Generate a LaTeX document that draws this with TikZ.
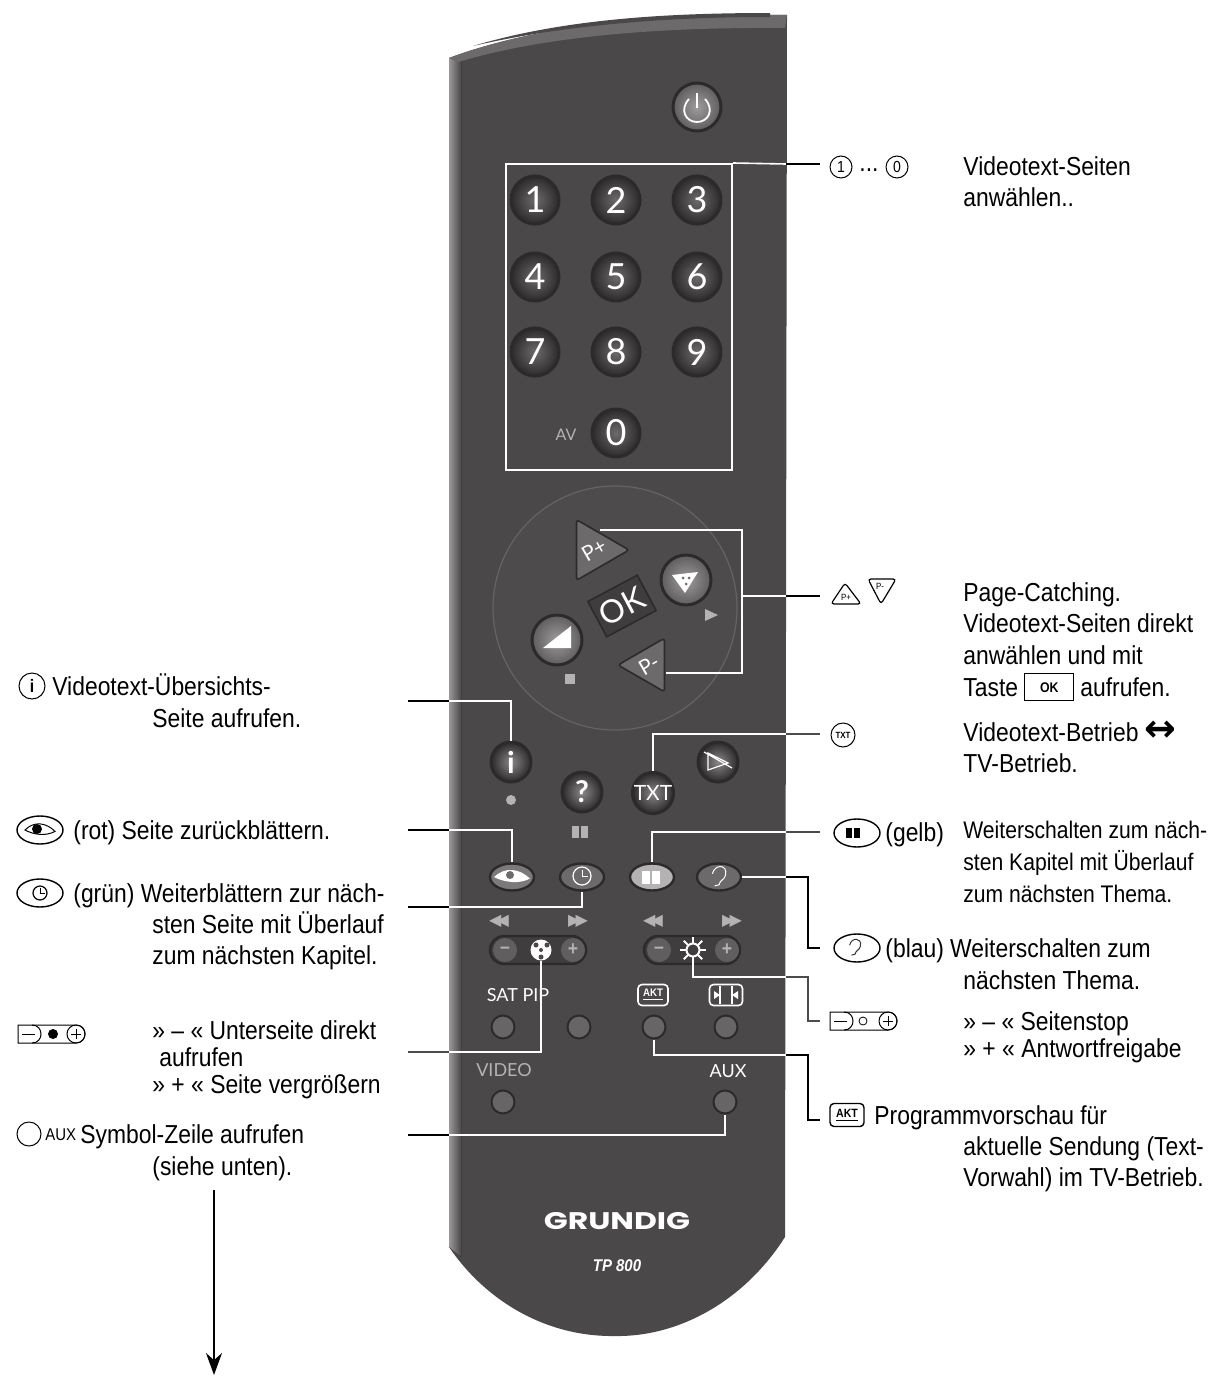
\documentclass[tikz,border=0pt]{standalone}
\usepackage{fontspec}
\setmainfont[FakeStretch=0.88]{Liberation Sans}
\newfontfamily\keyfont{Lato}
\newfontfamily\symfont{DejaVu Sans}
\newfontfamily\brandfont[FakeStretch=1.31]{Poppins}
\usetikzlibrary{shapes.geometric,arrows.meta}

\definecolor{bodygrey}{HTML}{4B4849}
\definecolor{rimgrey}{HTML}{2C2A2B}
\definecolor{keygrey}{HTML}{6C6A6A}
\definecolor{markgrey}{HTML}{B4B2B2}

\tikzset{
    note/.style={anchor=north west, inner sep=0pt, align=left, font=\fontsize{13}{15.8}\selectfont, execute at begin node=\strut},
    notetight/.style={note, font=\fontsize{13}{13.5}\selectfont},
    notesmall/.style={note, font=\fontsize{12}{16}\selectfont},
    numbtn/.style={circle, draw=rimgrey, line width=1.5pt, minimum size=24pt, inner sep=0pt, shading=radial, inner color=keygrey, outer color=rimgrey, text=white, font=\keyfont\fontsize{18}{18}\selectfont},
    litbtn/.style={numbtn, inner color=markgrey!70!keygrey, outer color=keygrey!60!bodygrey},
    funcbtn/.style={numbtn, minimum size=20pt, inner color=markgrey!40!keygrey, outer color=rimgrey, font=\keyfont\bfseries\fontsize{15}{15}\selectfont},
    ovalbtn/.style={ellipse, draw=rimgrey, line width=1.2pt, minimum width=22pt, minimum height=13.5pt, inner sep=0pt, fill=keygrey},
    smallbtn/.style={circle, draw=rimgrey, line width=1pt, minimum size=11.5pt, inner sep=0pt, fill=keygrey!85!bodygrey},
    pagebtn/.style={regular polygon, regular polygon sides=3, minimum size=31pt, inner sep=0pt, rounded corners=1.5pt, draw=rimgrey, line width=.8pt, fill=keygrey, rotate=30, text=white, font=\keyfont\fontsize{10.5}{10.5}\selectfont},
    rocker/.style={rounded corners=7pt, draw=rimgrey, line width=1.2pt, fill=bodygrey!85!black, minimum width=48pt, minimum height=14pt, inner sep=0pt},
    rockend/.style={circle, minimum size=12pt, inner sep=0pt, fill=keygrey!65!bodygrey, text=markgrey, font=\bfseries\fontsize{10}{10}\selectfont},
    keylabel/.style={inner sep=0pt, text=white, font=\keyfont\fontsize{9}{9}\selectfont},
    symcirc/.style={circle, draw, line width=.5pt, minimum size=11pt, inner sep=0pt, font=\fontsize{8}{8}\selectfont},
    symoval/.style={ellipse, draw, line width=.7pt, minimum width=23pt, minimum height=14pt, inner sep=0pt},
    leadwhite/.style={draw=white, line width=.8pt},
    leadblack/.style={draw=black, line width=1pt},
    leadthin/.style={draw=black!70, line width=.6pt}
}

\newcommand{\eyemark}[5]{% x y half width half height look
    \path[#5] (#1-#3,#2) .. controls (#1-#3*.4,#2-#4*1.3) and (#1+#3*.4,#2-#4*1.1) .. (#1+#3,#2+#4*.2)
        .. controls (#1+#3*.4,#2+#4*.9) and (#1-#3*.4,#2+#4*.7) .. cycle;
}
\newcommand{\clockmark}[4]{% x y radius colour
    \draw[#4, line width=.6pt] (#1,#2) circle[radius=#3];
    \draw[#4, line width=.5pt] (#1,#2-#3*.65) -- (#1,#2) -- (#1+#3*.65,#2);
}
\newcommand{\earmark}[4]{% x y size colour
    \draw[#4, line width=.5pt] (#1-#3*.6,#2-#3*.2) .. controls (#1-#3*.4,#2-#3*1.1) and (#1+#3*.8,#2-#3*1.1) .. (#1+#3*.6,#2-#3*.1)
        .. controls (#1+#3*.5,#2+#3*.4) and (#1+#3*.1,#2+#3*.3) .. (#1,#2+#3*.8) -- (#1-#3*.4,#2+#3*.9);
}
\newcommand{\barsmark}[4]{% x y height colour
    \fill[#4] (#1-#3*.7,#2-#3*.5) rectangle (#1-#3*.1,#2+#3*.5);
    \fill[#4] (#1+#3*.1,#2-#3*.5) rectangle (#1+#3*.7,#2+#3*.5);
}
\newcommand{\rockersym}[3]{% x y middle mark
    \draw[line width=.5pt] (#1,#2-9) -- (#1+58,#2-9) .. controls (#1+70,#2-9) and (#1+70,#2+9) .. (#1+58,#2+9) -- (#1,#2+9) -- cycle;
    \draw[line width=.5pt] (#1+14,#2-9) .. controls (#1+26,#2-9) and (#1+26,#2+9) .. (#1+14,#2+9);
    \draw[line width=.5pt] (#1+4,#2) -- (#1+17,#2);
    \draw[line width=.5pt] (#1+58,#2) circle[radius=9];
    \draw[line width=.5pt] (#1+53,#2) -- (#1+63,#2) (#1+58,#2-5) -- (#1+58,#2+5);
    #3
}

\begin{document}
\begin{tikzpicture}[x=0.5pt, y=-0.5pt]
    \useasboundingbox (0,0) rectangle (1212,1376);

    % remote body
    \fill[bodygrey] (449,58) .. controls (540,24) and (660,14) .. (787,15) -- (785,1237)
        .. controls (745,1300) and (680,1337) .. (615,1336) .. controls (545,1337) and (485,1300) .. (449,1247) -- cycle;
    \fill[left color=markgrey!75!bodygrey, right color=bodygrey] (449,58) -- (461,58) -- (461,1257) -- (449,1247) -- cycle;
    \fill[keygrey] (449,58) .. controls (540,24) and (660,14) .. (787,15) -- (785,28) .. controls (660,27) and (545,36) .. (458,62) -- cycle;
    \fill[bodygrey] (473,46) .. controls (560,20) and (660,13) .. (770,13) -- (770,17) .. controls (660,17) and (560,26) .. (473,46) -- cycle;

    % power and number keys
    \node[litbtn] (power) at (697,107) {};
    \draw[white, line width=.9pt] (689,99) .. controls (679,110) and (686,122) .. (697,122) .. controls (708,122) and (715,110) .. (705,99);
    \draw[white, line width=.9pt] (697,93) -- (697,108);
    \foreach \num/\px/\py in {1/535/200, 2/616/200, 3/697/200, 4/535/277, 5/616/277, 6/697/277, 7/535/352, 8/616/352, 9/697/352, 0/616/433}
        \node[numbtn] (num\num) at (\px,\py) {\num};
    \node[keylabel, text=markgrey, font=\keyfont\fontsize{8}{8}\selectfont] (avlabel) at (566,435) {AV};
    \node[draw=white, line width=1pt, minimum width=113pt, minimum height=153pt, inner sep=0pt] (numpad) at (619,317) {};

    % page keys
    \fill[bodygrey!92!keygrey] (615,608) circle[radius=122];
    \draw[keygrey!80!bodygrey, line width=.6pt] (615,608) circle[radius=122];
    \node[pagebtn, shape border rotate=-120] (pplus) at (594,550) {P+};
    \node[pagebtn, shape border rotate=60] (pminus) at (649,665) {P-};
    \node[rotate=28, draw=rimgrey, line width=.8pt, fill=bodygrey!85!black, minimum width=28pt, minimum height=20pt, inner sep=0pt, text=white, font=\keyfont\fontsize{16}{16}\selectfont] (okkey) at (622,606) {OK};
    \node[litbtn, minimum size=25pt] (prevkey) at (557,640) {};
    \node[litbtn, minimum size=25pt] (nextkey) at (686,580) {};
    \fill[white] (543,648) -- (571,626) -- (571,648) -- cycle;
    \fill[white] (672,575) -- (698,572) -- (685,593) -- cycle;
    \fill[keygrey] (683,578) circle[radius=1.5] (689,578) circle[radius=1.5] (686,584) circle[radius=1.5];
    \node[fill=markgrey, minimum size=5pt, inner sep=0pt] (stopmark) at (570,679) {};
    \fill[markgrey] (705,609) -- (718,615) -- (705,621) -- cycle;

    % function keys
    \node[funcbtn] (infokey) at (511,762) {i};
    \node[funcbtn] (helpkey) at (582,792) {?};
    \node[funcbtn, font=\keyfont\fontsize{10.5}{10.5}\selectfont] (txtkey) at (653,793) {TXT};
    \node[funcbtn] (cutkey) at (718,762) {};
    \draw[white, line width=.6pt] (708,753) -- (708,770) -- (728,763) -- cycle (704,752) -- (732,768);
    \fill[markgrey] (511,800) circle[radius=5];
    \barsmark{580}{832}{12}{markgrey}

    % coloured keys
    \node[ovalbtn, fill=keygrey!90!white] (redkey) at (512,877) {};
    \node[ovalbtn] (greenkey) at (582,877) {};
    \node[ovalbtn, fill=markgrey] (yellowkey) at (652,877) {};
    \node[ovalbtn] (bluekey) at (719,877) {};
    \eyemark{512}{877}{18}{8}{fill=white}
    \fill[keygrey] (510,875) circle[radius=4];
    \clockmark{582}{876}{9}{white}
    \barsmark{651}{877}{13}{white}
    \earmark{719}{876}{11}{white}

    % rockers
    \foreach \px/\wind in {499/◀\kern-2.5pt◀, 578/▶\kern-2.5pt▶, 653/◀\kern-2.5pt◀, 732/▶\kern-2.5pt▶}
        \node[keylabel, text=markgrey, font=\symfont\fontsize{8}{8}\selectfont] (wind\px) at (\px,921) {\wind};
    \node[rocker] (subrock) at (538,950) {};
    \node[rocker] (stoprock) at (692,950) {};
    \node[rockend] (subminus) at (505,950) {--};
    \node[rockend] (subplus) at (573,950) {+};
    \node[rockend] (stopminus) at (659,950) {--};
    \node[rockend] (stopplus) at (727,950) {+};
    \node[circle, fill=white, minimum size=10.5pt, inner sep=0pt] (subicon) at (541,950) {};
    \fill[bodygrey] (541,950) circle[radius=2] (536,945) circle[radius=2.5] (547,945) circle[radius=2.5] (541,957) circle[radius=2.5];
    \node[circle, draw=white, line width=1pt, minimum size=6.5pt, inner sep=0pt] (stopicon) at (693,950) {};
    \foreach \ray in {0,45,...,315}
        \draw[white, line width=.9pt] (693,950) ++(\ray:7) -- ++(\ray:6);

    % lower keys
    \node[keylabel] (satlabel) at (518,995) {SAT PIP};
    \node[draw=white, line width=.8pt, rounded corners=2pt, minimum width=15pt, minimum height=10.5pt, inner sep=0pt, text=white, font=\bfseries\fontsize{5.5}{5.5}\selectfont] (aktlabel) at (653,995) {\underline{AKT}};
    \node[draw=white, line width=.8pt, rounded corners=2pt, minimum width=16.5pt, minimum height=10.5pt, inner sep=0pt] (widelabel) at (726,995) {};
    \draw[white, line width=.6pt] (720,986) -- (720,1004) (732,986) -- (732,1004);
    \fill[white] (720,995) -- (714,991) -- (714,999) -- cycle (732,995) -- (738,991) -- (738,999) -- cycle;
    \node[smallbtn] (satkey) at (503,1027) {};
    \node[smallbtn] (pipkey) at (579,1027) {};
    \node[smallbtn] (aktkey) at (654,1027) {};
    \node[smallbtn] (widekey) at (726,1027) {};
    \node[keylabel, text=markgrey] (videolabel) at (504,1070) {VIDEO};
    \node[keylabel] (auxlabel) at (728,1071) {AUX};
    \node[smallbtn] (videokey) at (503,1102) {};
    \node[smallbtn] (auxkey) at (725,1102) {};

    % brand
    \node[inner sep=0pt, text=white, font=\brandfont\bfseries\fontsize{12}{12}\selectfont] (brand) at (617,1221) {GRUNDIG};
    \node[inner sep=0pt, text=white, font=\bfseries\itshape\fontsize{8.5}{8.5}\selectfont] (model) at (617,1266) {TP 800};

    % symbols on the right
    \node[symcirc] (symone) at (841,167) {1};
    \node[inner sep=0pt, font=\fontsize{13}{13}\selectfont] (symdots) at (869,170) {...};
    \node[symcirc] (symzero) at (897,167) {0};
    \draw[line width=.6pt, rounded corners=1.5pt] (845,583) -- (861,604) -- (831,604) -- cycle;
    \node[inner sep=0pt, font=\fontsize{4.5}{4.5}\selectfont] (sympplus) at (846,597) {P+};
    \draw[line width=.6pt, rounded corners=1.5pt] (868,579) -- (896,579) -- (881,604) -- cycle;
    \node[inner sep=0pt, font=\fontsize{4.5}{4.5}\selectfont] (sympminus) at (880,586) {P-};
    \node[symcirc, minimum size=12pt, font=\bfseries\fontsize{4.5}{4.5}\selectfont] (symtxt) at (843,735) {TXT};
    \node[symoval] (symyellow) at (857,833) {};
    \barsmark{853}{833}{10}{black}
    \node[symoval] (symblue) at (857,948) {};
    \earmark{855}{947}{9}{black!80}
    \rockersym{830}{1021}{\draw[line width=.4pt] (863,1021) circle[radius=4];}
    \node[minimum width=34pt, minimum height=9pt, inner sep=0pt] (symstop) at (864,1021) {};
    \node[draw, line width=.7pt, rounded corners=2pt, minimum width=17pt, minimum height=11.5pt, inner sep=0pt, font=\bfseries\fontsize{6}{6}\selectfont] (symakt) at (847,1115) {\underline{AKT}};

    % symbols on the left
    \node[symcirc, minimum size=13pt, font=\bfseries\fontsize{9}{9}\selectfont] (syminfo) at (32,686) {i};
    \node[symoval] (symred) at (40,830) {};
    \eyemark{40}{830}{15}{7}{draw=black, line width=.5pt, fill=white}
    \fill (37,829) circle[radius=5];
    \node[symoval] (symgreen) at (40,893) {};
    \clockmark{40}{893}{7}{black}
    \rockersym{18}{1034}{\fill (53,1034) circle[radius=5];}
    \node[minimum width=34pt, minimum height=9pt, inner sep=0pt] (symsub) at (52,1034) {};
    \node[circle, draw, line width=.5pt, minimum size=12pt, inner sep=0pt] (symaux) at (29,1134) {};
    \node[anchor=west, inner sep=0pt, font=\fontsize{8.5}{8.5}\selectfont] (symauxtext) at (45,1135) {AUX};

    % texts on the right
    \node[note] (numtext) at (963,156) {Videotext-Seiten\\anwählen..};
    \node[note] (pagetext) at (963,582) {Page-Catching.\\Videotext-Seiten direkt\\anwählen und mit\\Taste \smash{\raisebox{2pt}{\fboxsep=4pt\fbox{\makebox[16pt]{\bfseries\fontsize{7}{7}\selectfont OK}}}} aufrufen.};
    \node[note] (txttext) at (963,722) {Videotext-Betrieb \smash{\symfont\bfseries\fontsize{19}{15}\selectfont ↔}\\TV-Betrieb.};
    \node[note] (yellowtag) at (885,819) {(gelb)};
    \node[notesmall] (yellowtext) at (963,821) {Weiterschalten zum näch-\\sten Kapitel mit Überlauf\\zum nächsten Thema.};
    \node[note] (bluetext) at (885,935) {(blau) Weiterschalten zum};
    \node[note] (bluemore) at (963,967) {nächsten Thema.};
    \node[notetight] (stoptext) at (963,1011) {» -- « Seitenstop\\» + « Antwortfreigabe};
    \node[note] (akttext) at (874,1102) {Programmvorschau  für};
    \node[note] (aktmore) at (963,1136) {aktuelle Sendung (Text-\\Vorwahl) im TV-Betrieb.};

    % texts on the left
    \node[note] (infotext) at (52,673) {Videotext-Übersichts-};
    \node[note] (infomore) at (152,705) {Seite aufrufen.};
    \node[note] (redtext) at (73,817) {(rot) Seite zurückblättern.};
    \node[note] (greentext) at (73,880) {(grün) Weiterblättern zur näch-};
    \node[note] (greenmore) at (152,911) {sten Seite mit Überlauf\\zum nächsten Kapitel.};
    \node[notetight] (subtext) at (152,1020) {» -- « Unterseite direkt\\\hspace*{3.5pt}aufrufen\\» + « Seite vergrößern};
    \node[note] (auxtext) at (80,1121) {Symbol-Zeile aufrufen};
    \node[note] (auxmore) at (152,1153) {(siehe unten).};

    % points where the leaders leave the remote
    \coordinate (numedge) at (786,164);
    \coordinate (numend) at (820,164);
    \coordinate (pagejoin) at (742,596);
    \coordinate (pageedge) at (786,596);
    \coordinate (pageend) at (820,596);
    \coordinate (pplustip) at (600,530);
    \coordinate (pminustip) at (666,673);
    \coordinate (txtedge) at (786,734);
    \coordinate (txtend) at (820,734);
    \coordinate (yellowedge) at (786,832);
    \coordinate (yellowend) at (820,832);
    \coordinate (blueedge) at (786,877);
    \coordinate (blueturn) at (808,877);
    \coordinate (bluefoot) at (808,948);
    \coordinate (blueend) at (820,948);
    \coordinate (stopedge) at (786,977);
    \coordinate (stopturn) at (808,977);
    \coordinate (stopfoot) at (808,1021);
    \coordinate (stopend) at (820,1021);
    \coordinate (aktedge) at (786,1055);
    \coordinate (aktturn) at (808,1055);
    \coordinate (aktfoot) at (808,1120);
    \coordinate (aktend) at (820,1120);
    \coordinate (infoend) at (408,701);
    \coordinate (infoedge) at (449,701);
    \coordinate (redend) at (408,830);
    \coordinate (rededge) at (449,830);
    \coordinate (greenend) at (408,907);
    \coordinate (greenedge) at (449,907);
    \coordinate (subend) at (408,1052);
    \coordinate (subedge) at (449,1052);
    \coordinate (auxend) at (408,1135);
    \coordinate (auxedge) at (449,1135);
    \coordinate (arrowstart) at (214,1190);
    \coordinate (arrowend) at (214,1375);

    % leaders
    \draw[leadwhite] (numpad.north east) -- (numedge);
    \draw[leadblack] (numedge) -- (numend);

    \draw[leadwhite] (pplustip) -| (pminustip -| pagejoin) -- (pminustip);
    \draw[leadwhite] (pagejoin) -- (pageedge);
    \draw[leadblack] (pageedge) -- (pageend);

    \draw[leadwhite] (txtkey) |- (txtedge);
    \draw[leadthin] (txtedge) -- (txtend);

    \draw[leadwhite] (yellowkey) |- (yellowedge);
    \draw[leadthin] (yellowedge) -- (yellowend);

    \draw[leadwhite] (bluekey) -- (blueedge);
    \draw[leadblack] (blueedge) -- (blueturn) -- (bluefoot) -- (blueend);

    \draw[leadwhite] (stopicon.south) |- (stopedge);
    \draw[leadthin] (stopedge) -- (stopturn) -- (stopfoot) -- (stopend);

    \draw[leadwhite] (aktkey) |- (aktedge);
    \draw[leadblack] (aktedge) -- (aktturn) -- (aktfoot) -- (aktend);

    \draw[leadblack] (infoend) -- (infoedge);
    \draw[leadwhite] (infoedge) -| (infokey);
    \draw[leadblack] (redend) -- (rededge);
    \draw[leadwhite] (rededge) -| (redkey);
    \draw[leadblack] (greenend) -- (greenedge);
    \draw[leadwhite] (greenedge) -| (greenkey);
    \draw[leadthin] (subend) -- (subedge);
    \draw[leadwhite] (subedge) -| (subicon);
    \draw[leadblack] (auxend) -- (auxedge);
    \draw[leadwhite] (auxedge) -| (auxkey);

    \draw[-{Stealth[length=11pt, width=8pt]}, line width=1pt] (arrowstart) -- (arrowend);
\end{tikzpicture}
\end{document}
